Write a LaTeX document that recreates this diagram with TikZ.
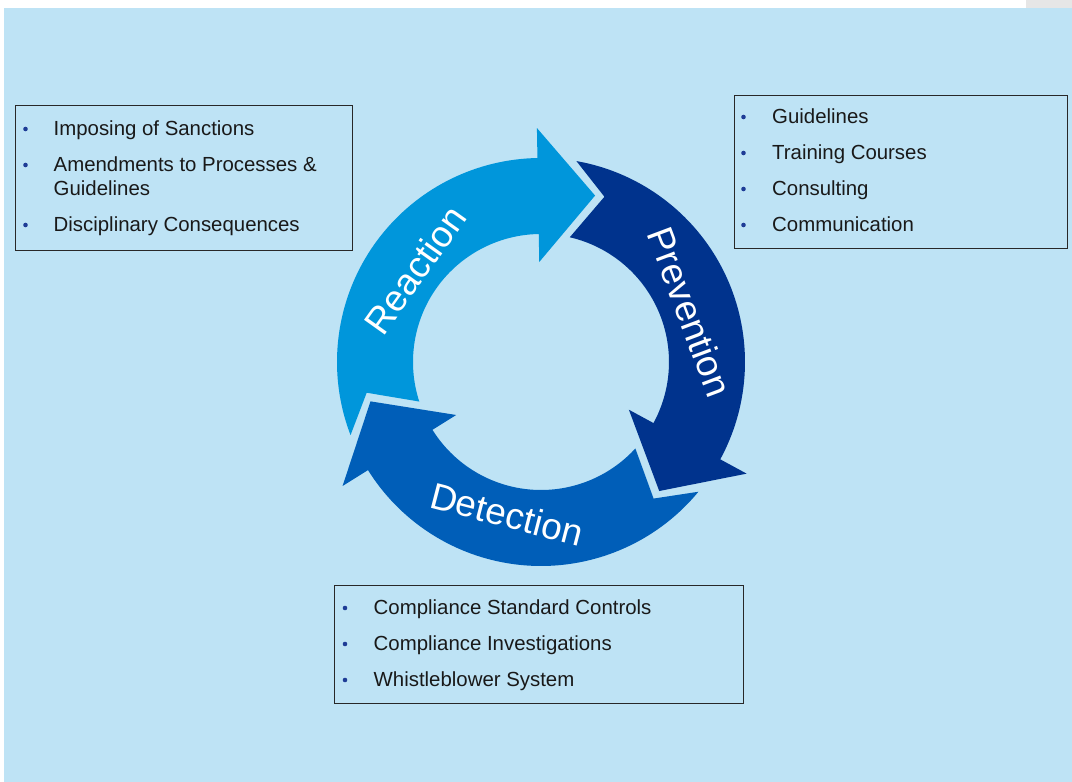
\documentclass[tikz,border=0pt]{standalone}
\usepackage{fontspec}
\setmainfont{Liberation Sans}
\usetikzlibrary{calc}
\definecolor{bg}{RGB}{190,227,245}
\definecolor{reactcol}{RGB}{0,150,219}
\definecolor{prevcol}{RGB}{0,51,141}
\definecolor{detcol}{RGB}{0,94,184}
\definecolor{bulletcol}{RGB}{30,60,150}
\definecolor{txtcol}{RGB}{25,25,25}
\definecolor{boxline}{RGB}{40,40,40}
\definecolor{greypatch}{RGB}{230,230,230}
\def\Rout{204}
\def\Rin{128}
\def\Rwo{234}
\def\Rwi{100}
\def\Rtip{175}
\def\Rnotch{177}
% #1 = base angle of previous arrow head, #2 = base angle of this head, #3 = colour
\newcommand\cyclearrow[3]{%
  \fill[#3] ($(C)+({#1-11}:\Rout)$)
    arc[start angle={#1-11}, end angle={#2}, radius=\Rout]
    -- ($(C)+({#2}:\Rwo)$)
    -- ($(C)+({#2-19}:\Rtip)$)
    -- ($(C)+({#2}:\Rwi)$)
    -- ($(C)+({#2}:\Rin)$)
    arc[start angle={#2}, end angle={#1-14}, radius=\Rin]
    -- ($(C)+({#1-22}:\Rnotch)$)
    -- cycle;}
\begin{document}
\begin{tikzpicture}[x=1pt,y=1pt,
  ringlabel/.style={text=white, inner sep=0pt, font=\fontsize{37}{40}\selectfont},
  listbox/.style={draw=boxline, line width=1.1pt, anchor=north west, inner sep=0pt},
  listtext/.style={anchor=base west, inner sep=0pt, text=txtcol, font=\fontsize{20.4}{24}\selectfont},
  bulletdot/.style={circle, fill=bulletcol, inner sep=0pt, minimum size=4.6pt}]
\useasboundingbox (0,0) rectangle (1072,782);
\fill[white] (0,0) rectangle (1072,782);
\fill[bg] (4,0) rectangle (1072,774);
\fill[greypatch] (1026,774) rectangle (1072,782);

\coordinate (C) at (541,420);
\cyclearrow{212}{91}{reactcol}
\cyclearrow{91}{-28.5}{prevcol}
\cyclearrow{-28.5}{-148}{detcol}

\node[ringlabel, rotate=54.6] (reaction) at (415,512) {Reaction};
\node[ringlabel, rotate=-69.4] (prevention) at (690,470) {Prevention};
\node[ringlabel, rotate=-14.5] (detection) at (507,268) {Detection};

% left box
\node[listbox, minimum width=337pt, minimum height=145pt] (reactbox) at (15,677) {};
\node[bulletdot] (rb1) at (25.5,653) {};
\node[bulletdot] (rb2) at (25.5,617) {};
\node[bulletdot] (rb3) at (25.5,557) {};
\node[listtext] (rt1) at (53.5,646) {Imposing of Sanctions};
\node[listtext] (rt2) at (53.5,610) {Amendments to Processes \&};
\node[listtext] (rt2b) at (53.5,586) {Guidelines};
\node[listtext] (rt3) at (53.5,550) {Disciplinary Consequences};

% right box
\node[listbox, minimum width=333pt, minimum height=153pt] (prevbox) at (734,687) {};
\node[bulletdot] (pb1) at (743.5,665) {};
\node[bulletdot] (pb2) at (743.5,629) {};
\node[bulletdot] (pb3) at (743.5,593) {};
\node[bulletdot] (pb4) at (743.5,557) {};
\node[listtext] (pt1) at (772,658) {Guidelines};
\node[listtext] (pt2) at (772,622) {Training Courses};
\node[listtext] (pt3) at (772,586) {Consulting};
\node[listtext] (pt4) at (772,550) {Communication};

% bottom box
\node[listbox, minimum width=409pt, minimum height=118pt] (detbox) at (334,197) {};
\node[bulletdot] (db1) at (345,174) {};
\node[bulletdot] (db2) at (345,138) {};
\node[bulletdot] (db3) at (345,102) {};
\node[listtext] (dt1) at (373.5,167) {Compliance Standard Controls};
\node[listtext] (dt2) at (373.5,131) {Compliance Investigations};
\node[listtext] (dt3) at (373.5,95) {Whistleblower System};
\end{tikzpicture}
\end{document}
